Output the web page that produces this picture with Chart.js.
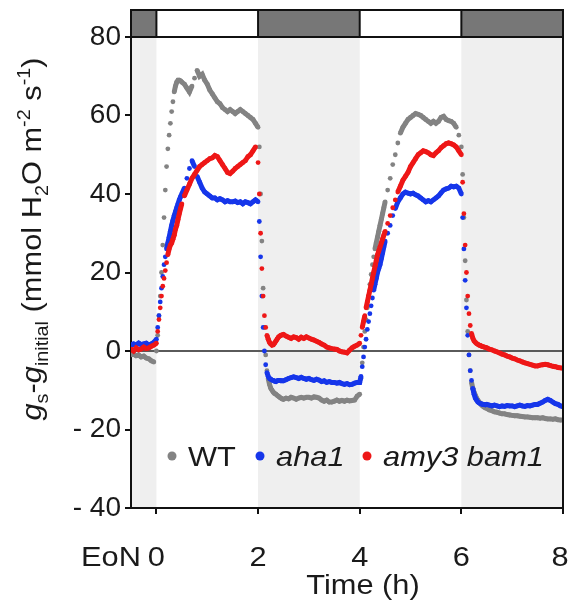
<!DOCTYPE html>
<html>
<head>
<meta charset="utf-8">
<script src="https://cdn.jsdelivr.net/npm/chart.js@4.4.1/dist/chart.umd.min.js"></script>
<style>
  html, body { margin: 0; background: #fff; }
  #wrap { width: 572px; height: 602px; }
</style>
</head>
<body>
<div id="wrap"><canvas id="c"></canvas></div>
<script>
// stomatal conductance change vs time, light/dark periods
// (denser sampling around the light switches)
const hours = [
  -0.5, -0.45, -0.4, -0.35, -0.3, -0.25, -0.2, -0.15, -0.1, -0.05,
  0, 0.025, 0.05, 0.075, 0.1, 0.125, 0.15, 0.175, 0.2, 0.225,
  0.25, 0.275, 0.3, 0.325, 0.35, 0.375, 0.4, 0.425, 0.45, 0.475,
  0.5, 0.55, 0.6, 0.65, 0.7, 0.75, 0.8, 0.85, 0.9, 0.95,
  1, 1.05, 1.1, 1.15, 1.2, 1.25, 1.3, 1.35, 1.4, 1.45,
  1.5, 1.55, 1.6, 1.65, 1.7, 1.75, 1.8, 1.85, 1.9, 1.95,
  2, 2.025, 2.05, 2.075, 2.1, 2.125, 2.15, 2.175, 2.2, 2.225,
  2.25, 2.275, 2.3, 2.325, 2.35, 2.375, 2.4, 2.425, 2.45, 2.475,
  2.5, 2.55, 2.6, 2.65, 2.7, 2.75, 2.8, 2.85, 2.9, 2.95,
  3, 3.05, 3.1, 3.15, 3.2, 3.25, 3.3, 3.35, 3.4, 3.45,
  3.5, 3.55, 3.6, 3.65, 3.7, 3.75, 3.8, 3.85, 3.9, 3.95,
  4, 4.025, 4.05, 4.075, 4.1, 4.125, 4.15, 4.175, 4.2, 4.225,
  4.25, 4.275, 4.3, 4.325, 4.35, 4.375, 4.4, 4.425, 4.45, 4.475,
  4.5, 4.55, 4.6, 4.65, 4.7, 4.75, 4.8, 4.85, 4.9, 4.95,
  5, 5.05, 5.1, 5.15, 5.2, 5.25, 5.3, 5.35, 5.4, 5.45,
  5.5, 5.55, 5.6, 5.65, 5.7, 5.75, 5.8, 5.85, 5.9, 5.95,
  6, 6.025, 6.05, 6.075, 6.1, 6.125, 6.15, 6.175, 6.2, 6.225,
  6.25, 6.275, 6.3, 6.325, 6.35, 6.375, 6.4, 6.425, 6.45, 6.475,
  6.5, 6.55, 6.6, 6.65, 6.7, 6.75, 6.8, 6.85, 6.9, 6.95,
  7, 7.05, 7.1, 7.15, 7.2, 7.25, 7.3, 7.35, 7.4, 7.45,
  7.5, 7.55, 7.6, 7.65, 7.7, 7.75, 7.8, 7.85, 7.9, 7.95,
  8
];

const wt = [
  -1.0, -0.8, -1.2, -1.0, -1.5, -1.3, -1.8, -2.0, -2.5, -2.8,
  0, 4, 9, 14, 20, 27, 34, 41, 47, 51.5,
  55, 58, 61, 63.5, 66, 67.5, 68.5, 69, 69, 68.8,
  68.5, 68, 67, 66, 67.5, 69.5, 71.5, 70, 70.5, 69,
  68, 66.5, 65.5, 64.5, 63.5, 63, 62, 61.5, 61, 61.5,
  61, 60.5, 61, 61.5, 61, 60.5, 60, 59.5, 59, 58,
  57, 52, 40, 28, 16, 6, -1, -5, -7, -8.5,
  -9.5, -10, -10.5, -10.8, -11, -11.3, -11.5, -11.8, -12, -12.2,
  -12.3, -12, -12.2, -11.8, -12, -12.3, -12, -11.8, -12, -11.8,
  -11.8, -12, -11.7, -11.8, -12, -12.5, -12.8, -12.5, -13, -13,
  -12.8, -12.5, -12.8, -12.6, -12.8, -12.5, -12.7, -12.6, -12.5, -11.5,
  -11, -7, -3, 1, 5, 8, 11, 14, 17, 19.5,
  22, 24, 26, 27.5, 29, 30.5, 32, 33.5, 35, 36.5,
  38, 41, 44, 47.5, 50, 53, 55.5, 57, 58, 59,
  59.5, 60, 60.5, 60.3, 60, 59.5, 59, 58.5, 58, 58.5,
  58, 58.5, 59.5, 59.8, 59, 58.7, 58.5, 58, 57, 55,
  52, 45, 34, 23, 13, 5, -1, -5, -8, -9.5,
  -10.5, -11.3, -12, -12.5, -13, -13.4, -13.8, -14.1, -14.3, -14.5,
  -14.6, -15, -15.2, -15.5, -15.6, -15.8, -16, -16, -16.2, -16.3,
  -16.4, -16.5, -16.5, -16.6, -16.7, -16.8, -16.8, -16.9, -17, -17,
  -17, -17.1, -17, -17.2, -17.3, -17.3, -17.4, -17.3, -17.5, -17.6,
  -17.6
];

const aha1 = [
  1.5, 1.8, 1.5, 2.0, 1.6, 1.8, 2.0, 1.5, 1.8, 2.2,
  3, 6, 9, 12.5, 16, 19, 22, 24, 26, 27.5,
  29, 30.5, 32, 33.3, 34.5, 35.5, 36.5, 37.5, 38.5, 39.3,
  40, 41.5, 44, 46.5, 48.5, 47, 44.5, 43, 41.5, 40.5,
  40, 39.5, 39, 39, 38.5, 38.8, 38.5, 38, 38.3, 38,
  38, 38.2, 37.8, 38, 37.5, 38, 37.8, 37.5, 38, 38.5,
  38, 33, 24, 14, 6, 0, -3.5, -5.5, -6.5, -7,
  -7.2, -7.4, -7.5, -7.7, -7.8, -7.6, -7.5, -7.5, -7.6, -7.6,
  -7.6, -7.3, -7, -6.8, -6.6, -6.8, -7, -6.7, -7, -7.2,
  -7, -7.3, -7.5, -7.2, -7.4, -7.8, -7.6, -8, -7.8, -8,
  -8, -8.2, -8, -8.3, -8.5, -8.3, -8.6, -8.5, -8.2, -8,
  -8, -6.5, -4, -1.5, 1, 3, 5.5, 7.5, 9.5, 11.5,
  13.5, 15.5, 17, 18.5, 20, 21, 22, 23.5, 25, 26.5,
  28, 30, 32, 34.5, 36.3, 38, 39, 40, 40.5, 40.2,
  40, 40.2, 39.8, 39.5, 39, 38.5, 38, 38.3, 38, 38.5,
  39, 39.5, 40.3, 41, 41.3, 41.5, 42, 41.8, 42, 41.5,
  40, 34, 26, 18, 11, 4, -1, -5, -7.5, -9.5,
  -11, -12, -12.5, -13, -13.2, -13.4, -13.5, -13.6, -13.6, -13.7,
  -13.6, -13.8, -14, -13.8, -14, -14.2, -14, -14.1, -13.9, -14,
  -14, -14.2, -14, -13.8, -14, -14.1, -13.9, -14, -13.8, -13.6,
  -13.6, -13.3, -13, -12.6, -12.3, -12.6, -13, -13.4, -13.6, -14,
  -14.2
];

const amy3bam1 = [
  0.5, 0.0, 0.8, 0.3, 0.5, 1.0, 0.6, 0.8, 1.2, 1.5,
  2, 5, 8, 11, 14, 16.5, 18.5, 20.5, 22.5, 24.5,
  26, 27, 27.5, 28.5, 29.5, 31, 32, 33.5, 35, 36.3,
  37.5, 39.5, 41, 42.5, 44, 45, 46, 47, 47.5, 48,
  48.5, 49, 49.2, 49.8, 49.5, 48.5, 47.5, 46.5, 45.5, 45.2,
  45.8, 46.5, 47, 47.5, 48, 48.5, 49.5, 50, 51, 52,
  48, 40, 30, 21, 14, 9, 6, 4, 3, 2.2,
  1.8, 1.5, 1.6, 2, 2.5, 3, 3.5, 3.8, 4, 4.1,
  4.2, 3.8, 3.5, 3.2, 3.6, 3.4, 3, 3.5, 3.2, 3.6,
  3.3, 3, 2.8, 2.5, 2.2, 1.8, 1.5, 1, 0.8, 0.6,
  0.5, 0.4, 0, -0.2, -0.3, -0.5, 0.2, 0.8, 1.2, 1.5,
  2, 4, 6, 7.5, 9, 11, 12.5, 14, 15.5, 17,
  18.5, 20, 21.5, 23, 24.5, 25.5, 26.5, 27.5, 28.5, 29.5,
  30.5, 32.5, 34.5, 36.5, 38.5, 40.5, 42, 43.5, 44.5, 45.5,
  47, 48, 49, 50, 50.5, 51, 50.8, 50.5, 50, 49.8,
  50.5, 51, 51.8, 52.3, 52.8, 53, 52.8, 52.5, 52, 51,
  50, 43, 35, 27, 20, 14, 9.5, 6.5, 4.5, 3.3,
  2.6, 2.2, 1.9, 1.7, 1.5, 1.4, 1.2, 1.1, 1, 0.9,
  0.8, 0.5, 0.3, 0, -0.2, -0.5, -0.8, -1, -1.3, -1.5,
  -1.8, -2, -2.3, -2.5, -2.8, -3, -3.2, -3.4, -3.6, -3.8,
  -3.8, -3.6, -3.5, -3.4, -3.5, -3.7, -3.9, -4, -4.2, -4.3,
  -4.4
];

const seriesNames = ["WT", "aha1", "amy3 bam1"];
const darkPeriods = [[-0.5, 0], [2, 4], [6, 8]];
const xTicks = [0, 2, 4, 6, 8];

const COLORS = ["#838383", "#1636ea", "#ee1717"];
const FONT = '"Liberation Sans", Arial, sans-serif';
const SX = 1.1; // source figure text is a little wide

const pts = (vals) => vals.map((v, i) => ({ x: hours[i], y: v }));

// draw a run of text pieces (for sub/superscripts), stretched horizontally
function runs(ctx, parts, x, y, align) {
  let w = 0;
  parts.forEach((p) => { ctx.font = p.f; w += ctx.measureText(p.t).width; });
  ctx.save();
  ctx.translate(x, y);
  ctx.scale(SX, 1);
  let cx = align === "center" ? -w / 2 : 0;
  ctx.textAlign = "left";
  ctx.textBaseline = "alphabetic";
  parts.forEach((p) => {
    ctx.font = p.f;
    ctx.fillText(p.t, cx, p.dy || 0);
    cx += ctx.measureText(p.t).width;
  });
  ctx.restore();
}

const decor = {
  id: "decor",
  beforeDraw(chart) {
    const { ctx, chartArea: a, scales: { x } } = chart;
    ctx.save();
    ctx.fillStyle = "#efefef";
    darkPeriods.forEach(([s, e]) => {
      const x0 = x.getPixelForValue(s), x1 = x.getPixelForValue(e);
      ctx.fillRect(x0, a.top, x1 - x0, a.bottom - a.top);
    });
    ctx.restore();
  },
  beforeDatasetsDraw(chart) {
    const { ctx, chartArea: a, scales: { y } } = chart;
    ctx.save();
    ctx.strokeStyle = "#5a5a5a";
    ctx.lineWidth = 2;
    ctx.beginPath();
    ctx.moveTo(a.left, y.getPixelForValue(0));
    ctx.lineTo(a.right, y.getPixelForValue(0));
    ctx.stroke();
    ctx.restore();
  },
  afterDraw(chart) {
    const { ctx, chartArea: a, scales: { x } } = chart;
    ctx.save();
    // light/dark bar on top
    const barTop = 10;
    darkPeriods.forEach(([s, e]) => {
      ctx.fillStyle = "#777";
      const x0 = x.getPixelForValue(s), x1 = x.getPixelForValue(e);
      ctx.fillRect(x0, barTop, x1 - x0, a.top - barTop);
    });
    ctx.strokeStyle = "#111";
    ctx.lineWidth = 2;
    ctx.strokeRect(a.left, barTop, a.right - a.left, a.top - barTop);
    [0, 2, 4, 6].forEach((t) => {
      const px = x.getPixelForValue(t);
      ctx.beginPath(); ctx.moveTo(px, barTop); ctx.lineTo(px, a.top); ctx.stroke();
    });
    // frame right side
    ctx.beginPath();
    ctx.moveTo(a.right, a.top); ctx.lineTo(a.right, a.bottom);
    ctx.stroke();

    const big = "28px " + FONT, it = "italic 28px " + FONT, sm = "18px " + FONT;
    ctx.fillStyle = "#1a1a1a";
    // x tick labels + EoN
    xTicks.forEach((t) => runs(ctx, [{ t: String(t), f: big }], Math.min(x.getPixelForValue(t), a.right - 3), 566, "center"));
    runs(ctx, [{ t: "EoN", f: big }], 111, 566, "center");
    // x title
    runs(ctx, [{ t: "Time (h)", f: big }], 363, 594, "center");

    // y title
    ctx.save();
    ctx.translate(41, 239);
    ctx.rotate(-Math.PI / 2);
    runs(ctx, [
      { t: "g", f: it }, { t: "s", f: sm, dy: 7 }, { t: "-", f: big },
      { t: "g", f: it }, { t: "initial", f: sm, dy: 7 },
      { t: " (mmol H", f: big }, { t: "2", f: sm, dy: 7 },
      { t: "O m", f: big }, { t: "-2", f: sm, dy: -11 },
      { t: " s", f: big }, { t: "-1", f: sm, dy: -11 }, { t: ")", f: big },
    ], 0, 0, "center");
    ctx.restore();

    // legend
    const items = [
      { x: 172, tx: 188, f: big },
      { x: 260, tx: 276, f: it },
      { x: 367, tx: 383, f: it },
    ];
    items.forEach((m, i) => {
      ctx.fillStyle = COLORS[i];
      ctx.beginPath(); ctx.arc(m.x, 456, 4.5, 0, Math.PI * 2); ctx.fill();
      ctx.fillStyle = "#1a1a1a";
      runs(ctx, [{ t: seriesNames[i], f: m.f }], m.tx, 466, "left");
    });
    ctx.restore();
  },
};

// thick trace where the signal is flat, separate dots where it moves fast
const mk = (label, vals, i) => ({
  label, data: pts(vals), showLine: true, borderWidth: 5,
  segment: { borderColor: (c) => (Math.abs(c.p1.y - c.p0.y) > 7 ? "rgba(0,0,0,0)" : undefined) },
  pointRadius: 2.4, pointBorderWidth: 0, pointHoverRadius: 2.4,
  backgroundColor: COLORS[i], borderColor: COLORS[i], order: 3 - i,
});

new Chart(document.getElementById("c"), {
  type: "scatter",
  data: { datasets: [mk(seriesNames[0], wt, 0), mk(seriesNames[1], aha1, 1), mk(seriesNames[2], amy3bam1, 2)] },
  options: {
    responsive: true, maintainAspectRatio: false, animation: false,
    layout: { padding: { top: 37, right: 9, left: 0, bottom: 0 } },
    plugins: { legend: { display: false }, tooltip: { enabled: false } },
    scales: {
      x: {
        type: "linear", min: -0.5, max: 8,
        afterBuildTicks: (s) => { s.ticks = xTicks.map((v) => ({ value: v })); },
        afterFit: (s) => { s.height = 94; },
        grid: { drawOnChartArea: false, drawTicks: true, tickLength: 6, color: "#111", lineWidth: 2 },
        border: { display: true, color: "#111", width: 2 },
        ticks: { display: false },
      },
      y: {
        min: -40, max: 80,
        afterFit: (s) => { s.width = 131; },
        grid: { drawOnChartArea: false, drawTicks: true, tickLength: 6, color: "#111", lineWidth: 2 },
        border: { display: true, color: "#111", width: 2 },
        ticks: { stepSize: 20, color: "#1a1a1a", font: { family: FONT, size: 28 }, padding: 4,
          callback: (v) => (v < 0 ? "- " + (-v) : String(v)) },
      },
    },
  },
  plugins: [decor],
});
</script>
</body>
</html>
